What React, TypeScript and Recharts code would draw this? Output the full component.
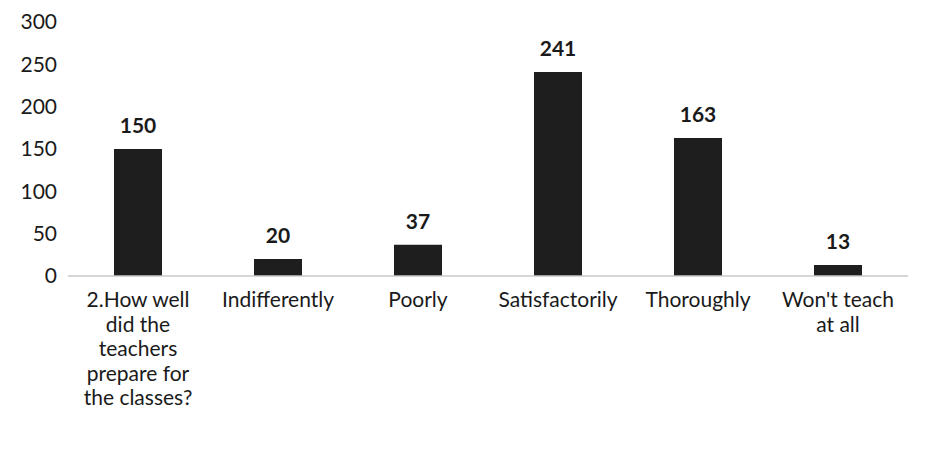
import React from "react";
import { BarChart, Bar, XAxis, YAxis, LabelList } from "recharts";

const categories = [
  "2.How well did the teachers prepare for the classes?",
  "Indifferently",
  "Poorly",
  "Satisfactorily",
  "Thoroughly",
  "Won't teach at all",
];
const values = [150, 20, 37, 241, 163, 13];
const tickLines: string[][] = [
  ["2.How well", "did the", "teachers", "prepare for", "the classes?"],
  ["Indifferently"],
  ["Poorly"],
  ["Satisfactorily"],
  ["Thoroughly"],
  ["Won't teach", "at all"],
];
const yTicks = [0, 50, 100, 150, 200, 250, 300];

const data = categories.map((c, i) => ({ name: c, value: values[i], idx: i }));

const FONT = "Lato, 'Open Sans', sans-serif";

const CatTick = (props: any) => {
  const { x, y, index } = props;
  const lines = tickLines[index] || [];
  return (
    <g transform={`translate(${x},${y})`}>
      {lines.map((l, i) => (
        <text
          key={i}
          x={0}
          y={i * 24.5}
          dy={"0.35em"}
          textAnchor="middle"
          fill="#1a1a1a"
          fontSize={21}
          fontFamily={FONT}
        >
          {l}
        </text>
      ))}
    </g>
  );
};

export default function App() {
  return (
    <div style={{ width: 928, height: 446, background: "#ffffff" }}>
      <BarChart
        width={928}
        height={446}
        data={data}
        margin={{ top: 14, right: 28, left: 0, bottom: 0 }}
        barCategoryGap={0}
      >
        <XAxis
          dataKey="name"
          height={178}
          interval={0}
          tickLine={false}
          tickSize={0}
          tickMargin={24}
          axisLine={{ stroke: "#c8c8c8", strokeWidth: 1.5 }}
          tick={<CatTick />}
        />
        <YAxis
          width={60}
          domain={[0, 300]}
          ticks={yTicks}
          axisLine={false}
          tickLine={false}
          tickSize={0}
          tickMargin={11}
          tick={{ fill: "#1a1a1a", fontSize: 21, fontFamily: FONT }}
        />
        <Bar dataKey="value" fill="#1e1e1e" barSize={48} isAnimationActive={false}>
          <LabelList
            dataKey="value"
            position="top"
            offset={16}
            fill="#1a1a1a"
            fontSize={21}
            fontWeight={700}
            fontFamily={FONT}
          />
        </Bar>
      </BarChart>
    </div>
  );
}
